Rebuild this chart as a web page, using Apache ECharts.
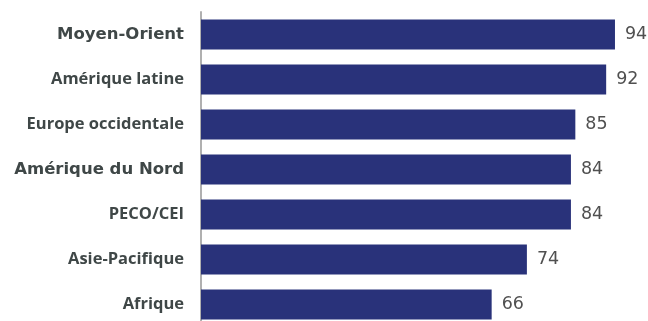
<!DOCTYPE html>
<html>
<head>
<meta charset="utf-8">
<script src="https://cdn.jsdelivr.net/npm/echarts@6/dist/echarts.min.js"></script>
<style>
  html, body { margin: 0; padding: 0; background: #ffffff; overflow: hidden; }
  #chart { width: 648px; height: 330px; }
</style>
</head>
<body>
<div id="chart"></div>
<script>
// Regions, listed top to bottom
const regions = ['Moyen-Orient', 'Amérique latine', 'Europe occidentale', 'Amérique du Nord', 'PECO/CEI', 'Asie-Pacifique', 'Afrique'];
// Score for each region
const scores = [94, 92, 85, 84, 84, 74, 66];
// Region names set in the wider, tracked type
const widerNames = ['Moyen-Orient', 'Amérique du Nord'];

const labelColor = '#3f4747';

const chart = echarts.init(document.getElementById('chart'), null, { renderer: 'canvas' });

chart.setOption({
  backgroundColor: '#ffffff',
  animation: false,
  grid: { left: 201, top: 12, width: 440.4, height: 315, containLabel: false },
  xAxis: {
    type: 'value',
    min: 0,
    max: 100,
    show: false
  },
  yAxis: {
    type: 'category',
    inverse: true,
    offset: 1,
    data: regions,
    axisLine: { show: true, lineStyle: { color: '#b0b0b0', width: 2 } },
    axisTick: { show: false },
    axisLabel: {
      margin: 16,
      formatter: function (name) {
        return (widerNames.indexOf(name) >= 0 ? '{w|' : '{n|') + name + '}';
      },
      rich: {
        n: { color: labelColor, fontFamily: 'Open Sans', fontWeight: 'bold', fontSize: 16.5 },
        w: { color: labelColor, fontFamily: 'DejaVu Sans', fontWeight: 'bold', fontSize: 16.5 }
      }
    }
  },
  series: [{
    type: 'bar',
    data: scores,
    barCategoryGap: '33.3%',
    itemStyle: { color: '#29327a' },
    label: {
      show: true,
      position: 'right',
      distance: 10,
      color: '#505050',
      fontFamily: 'DejaVu Sans',
      fontSize: 17.5
    }
  }]
});
</script>
</body>
</html>
